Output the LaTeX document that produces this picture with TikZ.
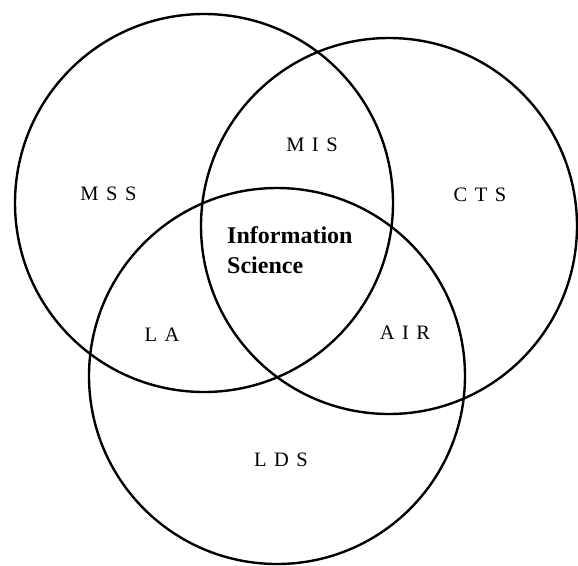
\documentclass[tikz,border=0pt]{standalone}
\usepackage{fontspec}
\setmainfont{Liberation Serif}
\newcommand\lgap{\hspace{7.5pt}}
\begin{document}
\begin{tikzpicture}[x=1pt,y=-1pt]
\tikzset{
  ring/.style={draw=black, line width=2.4pt},
  lab/.style={font=\fontsize{20.5}{24}\selectfont, inner sep=0pt, anchor=base},
  core/.style={font=\bfseries\fontsize{24}{29}\selectfont, inner sep=0pt, anchor=base west}
}
\useasboundingbox (0,0) rectangle (578,565);
\draw[ring] (204,203) circle[radius=189];
\draw[ring] (389,226) circle[radius=188];
\draw[ring] (277,376) circle[radius=188];
\node[lab] (mss) at (108.5,200) {M\lgap S\lgap S};
\node[lab] (mis) at (312,151) {M\lgap I\lgap S};
\node[lab] (cts) at (480,201) {C\lgap T\lgap S};
\node[lab] (la) at (162,341) {L\lgap A};
\node[lab] (air) at (405,339) {A\lgap I\lgap R};
\node[lab] (lds) at (281,466) {L\lgap D\lgap S};
\node[core] (info) at (227,243) {Information};
\node[core] (sci) at (227,273) {Science};
\end{tikzpicture}
\end{document}
